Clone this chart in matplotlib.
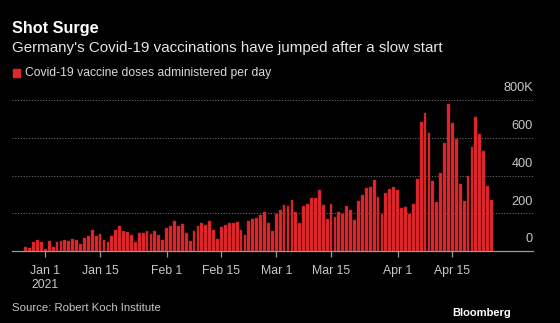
import matplotlib
matplotlib.use("Agg")
import matplotlib.pyplot as plt
import numpy as np
import pandas as pd

# Daily Covid-19 vaccine doses administered in Germany (thousands), from Dec 27, 2020
start_date = "2020-12-27"
doses_k = [
    21, 16, 46, 60, 48, 12, 53, 21, 46, 53, 60, 55, 62, 58, 35, 67, 80, 111, 81, 90,
    58, 50, 81, 113, 133, 104, 101, 87, 48, 94, 97, 108, 88, 108, 85, 57, 122, 133, 158, 131,
    143, 97, 53, 106, 133, 149, 140, 158, 110, 64, 127, 136, 149, 147, 152, 113, 83, 159, 168, 173,
    191, 209, 150, 106, 196, 218, 246, 239, 269, 204, 150, 241, 250, 283, 283, 324, 244, 172, 250, 181,
    204, 195, 241, 218, 163, 266, 296, 333, 337, 376, 286, 198, 309, 327, 341, 325, 230, 231, 198, 249,
    380, 682, 731, 625, 369, 258, 413, 570, 777, 680, 593, 353, 263, 399, 551, 708, 618, 530, 346, 270,
]
y_ticks = [0, 200000, 400000, 600000, 800000]
y_tick_labels = ["0", "200", "400", "600", "800K"]
x_tick_dates = ["2021-01-01", "2021-01-15", "2021-02-01", "2021-02-15",
                "2021-03-01", "2021-03-15", "2021-04-01", "2021-04-15"]
x_tick_labels = ["Jan 1\n2021", "Jan 15", "Feb 1", "Feb 15",
                 "Mar 1", "Mar 15", "Apr 1", "Apr 15"]

title = "Shot Surge"
subtitle = "Germany's Covid-19 vaccinations have jumped after a slow start"
legend_label = "Covid-19 vaccine doses administered per day"
source = "Source: Robert Koch Institute"

BG = "#000000"
RED = "#e3262b"
FONT = ["Liberation Sans", "DejaVu Sans"]

dates = pd.date_range(start_date, periods=len(doses_k), freq="D")
values = np.array(doses_k) * 1000

W, H = 560, 323
fig = plt.figure(figsize=(W / 100, H / 100), dpi=100, facecolor=BG)

left, right, top, bottom = 12, 533, 100, 251
ax = fig.add_axes([left / W, 1 - bottom / H, (right - left) / W, (bottom - top) / H])
ax.set_facecolor(BG)

ax.bar(dates, values, width=0.72, color=RED, edgecolor="#b51d22", linewidth=0.3, zorder=3)

ax.set_ylim(0, 800000)
ax.set_xlim(pd.Timestamp("2020-12-23 12:00"), pd.Timestamp("2021-05-05 14:00"))

# dotted gridlines and value labels sitting above them on the right
for v, lab in zip(y_ticks, y_tick_labels):
    if v > 0:
        ax.axhline(v, color="#6a6a6a", linestyle=(0, (1, 1.5)), linewidth=0.8,
                   zorder=1, clip_on=False)
    ax.annotate(lab, xy=(1, v), xycoords=("axes fraction", "data"),
                xytext=(0, 4), textcoords="offset points",
                ha="right", va="bottom", color="#c8c8c8", fontsize=9.2, family=FONT)

ax.set_yticks([])
for s in ["top", "right", "left"]:
    ax.spines[s].set_visible(False)
ax.spines["bottom"].set_color("#9a9a9a")
ax.spines["bottom"].set_linewidth(0.9)
ax.spines["bottom"].set_zorder(4)

ax.set_xticks([pd.Timestamp(d) for d in x_tick_dates])
ax.set_xticklabels(x_tick_labels, family=FONT, fontsize=8.8, color="#c8c8c8",
                   linespacing=1.25)
ax.tick_params(axis="x", length=4, width=0.9, color="#9a9a9a", pad=6)
for t in ax.get_xticklabels():
    t.set_va("top")

# header
fig.text(12 / W, 1 - 33 / H, title, color="white", fontsize=11.7,
         fontweight="bold", family=FONT, va="baseline")
fig.text(12 / W, 1 - 52 / H, subtitle, color="#e6e6e6", fontsize=10.9,
         family=FONT, va="baseline")

# legend
fig.patches.append(plt.Rectangle((13 / W, 1 - 76.5 / H), 6.5 / W, 7.5 / H,
                                 transform=fig.transFigure, color=RED))
fig.text(25 / W, 1 - 76 / H, legend_label, color="#d8d8d8", fontsize=8.7,
         family=FONT, va="baseline")

# footer
fig.text(12 / W, 1 - 311 / H, source, color="#c8c8c8", fontsize=8.2,
         family=FONT, va="baseline")
fig.text(511 / W, 1 - 316 / H, "Bloomberg", color="white", fontsize=8.0,
         fontweight="bold", family=FONT, ha="right", va="baseline")

fig.savefig("out.png", dpi=100, facecolor=BG)
